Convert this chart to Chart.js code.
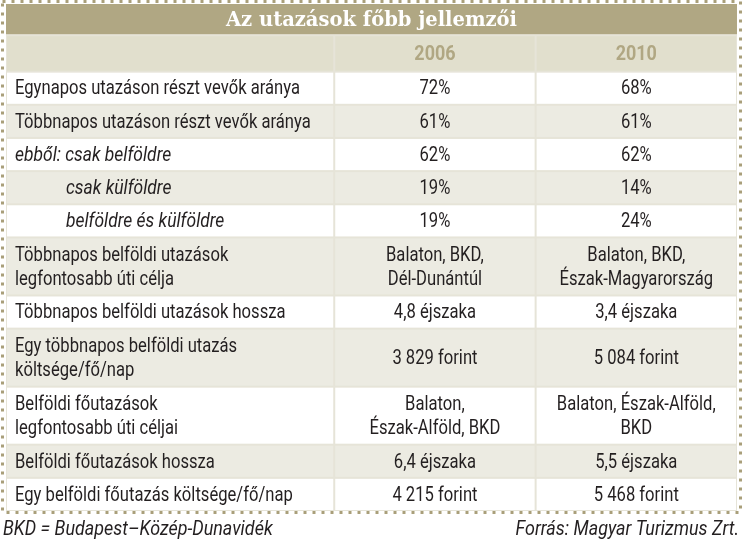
<!DOCTYPE html>
<html>
<head>
<meta charset="utf-8">
<script src="https://cdn.jsdelivr.net/npm/chart.js@4"></script>
<style>
  body { margin: 0; background: #fff; }
  #wrap { width: 742px; height: 548px; }
</style>
</head>
<body>
<div id="wrap"><canvas id="tableChart" width="742" height="548"></canvas></div>
<script>
const tableTitle = 'Az utazások főbb jellemzői';
const years = ['2006', '2010'];
const rowLabels = [
    'Egynapos utazáson részt vevők aránya',
    'Többnapos utazáson részt vevők aránya',
    'ebből: csak belföldre',
    'csak külföldre',
    'belföldre és külföldre',
    'Többnapos belföldi utazások\nlegfontosabb úti célja',
    'Többnapos belföldi utazások hossza',
    'Egy többnapos belföldi utazás\nköltsége/fő/nap',
    'Belföldi főutazások\nlegfontosabb úti céljai',
    'Belföldi főutazások hossza',
    'Egy belföldi főutazás költsége/fő/nap'
];
const values2006 = ['72%', '61%', '62%', '19%', '19%', 'Balaton, BKD,\nDél-Dunántúl', '4,8 éjszaka', '3 829 forint', 'Balaton,\nÉszak-Alföld, BKD', '6,4 éjszaka', '4 215 forint'];
const values2010 = ['68%', '61%', '62%', '14%', '24%', 'Balaton, BKD,\nÉszak-Magyarország', '3,4 éjszaka', '5 084 forint', 'Balaton, Észak-Alföld,\nBKD', '5,5 éjszaka', '5 468 forint'];
const footLeft = 'BKD = Budapest–Közép-Dunavidék';
const footRight = 'Forrás: Magyar Turizmus Zrt.';

// which rows are italic / indented
const italicRows = [2, 3, 4];
const indentRows = [3, 4];

// layout in scale units
const colWidths = [1.63, 1, 1];
const titleH = 0.94, headerH = 1.1;
const rowHeights = rowLabels.map(l => l.includes('\n') ? 1.75 : 1);

const colEdges = [0];
colWidths.forEach(w => colEdges.push(colEdges[colEdges.length - 1] + w));
const rowEdges = [titleH + headerH];
rowHeights.forEach(h => rowEdges.push(rowEdges[rowEdges.length - 1] + h));

const FONT = "Roboto, 'DejaVu Sans', sans-serif";
const SIZE = 21;

const tablePlugin = {
    id: 'tablePlugin',
    beforeDatasetsDraw(chart) {
        const ctx = chart.ctx;
        const xs = chart.scales.x, ys = chart.scales.y;
        const px = v => xs.getPixelForValue(v);
        const py = v => ys.getPixelForValue(v);
        const area = chart.chartArea;

        ctx.save();
        // narrow the text like a condensed face: first label is ~285px wide
        ctx.font = SIZE + 'px ' + FONT;
        const sx = 285 / ctx.measureText(rowLabels[0]).width;
        chart.$sx = sx;
        const text = (t, x, y, align, k) => {
            ctx.save();
            ctx.translate(x, y);
            ctx.scale(sx * (k || 1), 1);
            ctx.textAlign = align;
            ctx.fillText(t, 0, 0);
            ctx.restore();
        };

        ctx.fillStyle = '#e6e4d8';
        ctx.fillRect(area.left, area.top, area.right - area.left, area.bottom - area.top);

        const cell = (x0, x1, y0, y1, color) => {
            ctx.fillStyle = color;
            ctx.fillRect(px(x0) + 1, py(y0) + 1, px(x1) - px(x0) - 2, py(y1) - py(y0) - 2);
        };

        // title bar
        ctx.fillStyle = '#b0a783';
        ctx.fillRect(px(0), py(0), px(colEdges[3]) - px(0), py(titleH) - py(0) - 1);
        ctx.fillStyle = '#ffffff';
        ctx.font = "bold 19.5px 'DejaVu Serif', serif";
        ctx.textAlign = 'center';
        ctx.textBaseline = 'middle';
        ctx.fillText(tableTitle, (px(0) + px(colEdges[3])) / 2, (py(0) + py(titleH)) / 2 + 1);

        // header row
        for (let c = 0; c < 3; c++) cell(colEdges[c], colEdges[c + 1], titleH, titleH + headerH, '#e1dfcd');
        ctx.fillStyle = '#b0a783';
        ctx.font = 'bold ' + SIZE + 'px ' + FONT;
        years.forEach((y, i) => {
            text(y, (px(colEdges[i + 1]) + px(colEdges[i + 2])) / 2, (py(titleH) + py(titleH + headerH)) / 2 + 1, 'center', 1.08);
        });

        // body rows
        const drawLines = (t, x, yc, align, k) => {
            const lines = t.split('\n');
            const lh = 24;
            lines.forEach((ln, i) => text(ln, x, yc + (i - (lines.length - 1) / 2) * lh, align, k));
        };
        rowLabels.forEach((label, r) => {
            const y0 = rowEdges[r], y1 = rowEdges[r + 1];
            const bg = r % 2 === 0 ? '#ffffff' : '#ecebe2';
            for (let c = 0; c < 3; c++) cell(colEdges[c], colEdges[c + 1], y0, y1, bg);
            const yc = (py(y0) + py(y1)) / 2 + 1;
            ctx.fillStyle = '#231f20';
            const it = italicRows.includes(r);
            ctx.font = (it ? 'italic ' : '') + SIZE + 'px ' + FONT;
            drawLines(label, px(0) + (indentRows.includes(r) ? 60 : 9), yc, 'left', it ? 1.05 : 1);
            ctx.font = SIZE + 'px ' + FONT;
            drawLines(values2006[r], (px(colEdges[1]) + px(colEdges[2])) / 2, yc, 'center');
            drawLines(values2010[r], (px(colEdges[2]) + px(colEdges[3])) / 2, yc, 'center');
        });
        ctx.restore();
    },
    afterDraw(chart) {
        const ctx = chart.ctx;
        const sx = (chart.$sx || 1) * 1.08;
        ctx.save();
        // dotted frame
        ctx.strokeStyle = '#a99f7a';
        ctx.lineWidth = 3;
        ctx.setLineDash([3, 6]);
        ctx.strokeRect(2.5, 1.5, 738, 511);
        ctx.setLineDash([]);
        // footnotes
        ctx.fillStyle = '#231f20';
        ctx.font = 'italic ' + SIZE + 'px ' + FONT;
        ctx.textBaseline = 'middle';
        [[footLeft, 3, 'left'], [footRight, 739, 'right']].forEach(([t, x, align]) => {
            ctx.save();
            ctx.translate(x, 530);
            ctx.scale(sx, 1);
            ctx.textAlign = align;
            ctx.fillText(t, 0, 0);
            ctx.restore();
        });
        ctx.restore();
    }
};

new Chart(document.getElementById('tableChart').getContext('2d'), {
    type: 'scatter',
    data: { datasets: [] },
    options: {
        responsive: false,
        animation: false,
        layout: { padding: { left: 6, right: 5, top: 4, bottom: 37 } },
        plugins: { legend: { display: false }, tooltip: { enabled: false } },
        scales: {
            x: { type: 'linear', display: false, min: 0, max: colEdges[3] },
            y: { type: 'linear', display: false, reverse: true, min: 0, max: rowEdges[rowEdges.length - 1] }
        }
    },
    plugins: [tablePlugin]
});
</script>
</body>
</html>
